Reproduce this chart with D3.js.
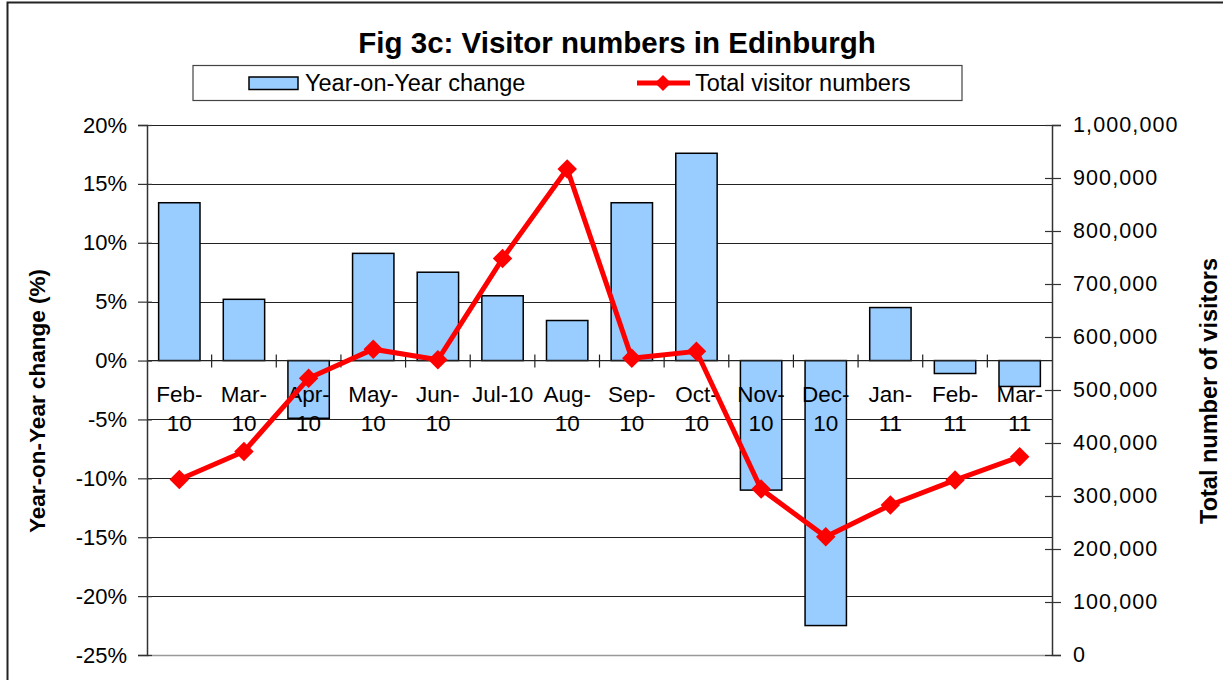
<!DOCTYPE html>
<html><head><meta charset="utf-8">
<script src="https://cdn.jsdelivr.net/npm/d3@7"></script>
<style>body{margin:0;background:#fff;} svg{display:block;font-family:Arial,"Liberation Sans",sans-serif;}</style>
</head><body>
<svg id="c" width="1223" height="680"></svg>
<script>
const categories = ["Feb-10","Mar-10","Apr-10","May-10","Jun-10","Jul-10","Aug-10","Sep-10","Oct-10","Nov-10","Dec-10","Jan-11","Feb-11","Mar-11"];
const yoyChange = [13.4, 5.2, -4.9, 9.1, 7.5, 5.5, 3.4, 13.4, 17.6, -11.0, -22.5, 4.5, -1.1, -2.2];
const totalVisitors = [331000, 384000, 522000, 577000, 557000, 748000, 917000, 560000, 573000, 313000, 223000, 283000, 330000, 374000];
const leftTicks = [20, 15, 10, 5, 0, -5, -10, -15, -20, -25];
const rightTicks = [0, 100000, 200000, 300000, 400000, 500000, 600000, 700000, 800000, 900000, 1000000];
const title = "Fig 3c: Visitor numbers in Edinburgh";
const leftTitle = "Year-on-Year change (%)";
const rightTitle = "Total number of visitors";
const legendLabels = ["Year-on-Year change", "Total visitor numbers"];

const svg = d3.select("#c");
const L = 147, R = 1052, T = 125, B = 655;

// outer border
svg.append("path").attr("d", `M7.5,${680} V2.5 H1223`).attr("fill","none").attr("stroke","#222").attr("stroke-width",2);

const x = d3.scaleBand().domain(categories).range([L, R]).paddingInner(0.36).paddingOuter(0.18);
const xb = d3.scaleBand().domain(categories).range([L, R]);
const yL = d3.scaleLinear().domain([-25, 20]).range([B, T]);
const yR = d3.scaleLinear().domain([0, 1000000]).range([B, T]);

// gridlines
svg.append("g").selectAll("line").data(leftTicks.filter(d => d !== -25 && d !== 0)).join("line")
  .attr("x1", L).attr("x2", R).attr("y1", d => Math.round(yL(d)) + 0.5).attr("y2", d => Math.round(yL(d)) + 0.5)
  .attr("stroke", "#222").attr("stroke-width", 1.2);
svg.append("line").attr("x1", L).attr("x2", R).attr("y1", B + 0.5).attr("y2", B + 0.5).attr("stroke", "#999").attr("stroke-width", 1.5);

// bars
svg.append("g").selectAll("rect").data(categories).join("rect")
  .attr("x", d => x(d)).attr("width", x.bandwidth())
  .attr("y", (d, i) => yL(Math.max(0, yoyChange[i])))
  .attr("height", (d, i) => Math.abs(yL(yoyChange[i]) - yL(0)))
  .attr("fill", "#99CCFF").attr("stroke", "#000").attr("stroke-width", 1.5);

// zero axis line with category ticks
svg.append("line").attr("x1", L).attr("x2", R).attr("y1", yL(0)).attr("y2", yL(0)).attr("stroke", "#222").attr("stroke-width", 1.3);
svg.append("g").selectAll("line").data(categories.slice(1)).join("line")
  .attr("x1", d => xb(d)).attr("x2", d => xb(d)).attr("y1", yL(0) - 6).attr("y2", yL(0) + 7)
  .attr("stroke", "#222").attr("stroke-width", 1.2);

// left axis
const gl = svg.append("g").attr("transform", `translate(${L},0)`)
  .call(d3.axisLeft(yL).tickValues(leftTicks).tickFormat(d => d + "%").tickSize(9).tickPadding(11));
gl.select(".domain").attr("stroke", "#333").attr("stroke-width", 1.5);
gl.selectAll(".tick line").attr("stroke", "#333").attr("stroke-width", 1.2).attr("x2", -9).attr("x1", 5);
gl.selectAll("text").attr("font-size", 22).attr("fill", "#000").attr("font-family", "Arial, Liberation Sans, sans-serif");

// right axis
const gr = svg.append("g").attr("transform", `translate(${R},0)`)
  .call(d3.axisRight(yR).tickValues(rightTicks).tickFormat(d3.format(",")).tickSize(9).tickPadding(12));
gr.select(".domain").attr("stroke", "#333").attr("stroke-width", 1.5);
gr.selectAll(".tick line").attr("stroke", "#333").attr("stroke-width", 1.2).attr("x1", -7).attr("x2", 9);
gr.selectAll("text").attr("font-size", 21.5).attr("letter-spacing", 1.1).attr("fill", "#000").attr("font-family", "Arial, Liberation Sans, sans-serif");

// category labels
const catG = svg.append("g");
categories.forEach(c => {
  const cx = xb(c) + xb.bandwidth() / 2;
  const lines = c === "Jul-10" ? [c] : [c.split("-")[0] + "-", c.split("-")[1]];
  const t = catG.append("text").attr("x", cx).attr("y", 402).attr("text-anchor", "middle")
    .attr("font-size", 22.5).attr("fill", "#000");
  lines.forEach((ln, k) => t.append("tspan").attr("x", cx).attr("dy", k === 0 ? 0 : 29).text(ln));
});

// line
const line = d3.line().x((d, i) => xb(categories[i]) + xb.bandwidth() / 2).y(d => yR(d));
svg.append("path").datum(totalVisitors).attr("d", line).attr("fill", "none")
  .attr("stroke", "#FF0000").attr("stroke-width", 5).attr("stroke-linejoin", "miter");
svg.append("g").selectAll("path").data(totalVisitors).join("path")
  .attr("transform", (d, i) => `translate(${xb(categories[i]) + xb.bandwidth() / 2},${yR(d)}) rotate(45)`)
  .attr("d", d3.symbol().type(d3.symbolSquare).size(190)).attr("fill", "#FF0000");

// title
svg.append("text").attr("x", 617).attr("y", 53).attr("text-anchor", "middle")
  .attr("font-size", 29.5).attr("font-weight", "bold").text(title);

// legend
svg.append("rect").attr("x", 193).attr("y", 65.5).attr("width", 769).attr("height", 35)
  .attr("fill", "#fff").attr("stroke", "#444").attr("stroke-width", 1.2);
svg.append("rect").attr("x", 249).attr("y", 77).attr("width", 49).attr("height", 12.5)
  .attr("fill", "#99CCFF").attr("stroke", "#000").attr("stroke-width", 1.5);
svg.append("text").attr("x", 305).attr("y", 91).attr("font-size", 23.5).text(legendLabels[0]);
svg.append("line").attr("x1", 637).attr("x2", 690).attr("y1", 83).attr("y2", 83).attr("stroke", "#FF0000").attr("stroke-width", 5);
svg.append("path").attr("transform", "translate(663,83) rotate(45)").attr("d", d3.symbol().type(d3.symbolSquare).size(130)).attr("fill", "#FF0000");
svg.append("text").attr("x", 695).attr("y", 91).attr("font-size", 23.5).text(legendLabels[1]);

// axis titles
svg.append("text").attr("transform", "translate(45,401) rotate(-90)").attr("text-anchor", "middle")
  .attr("font-size", 22.5).attr("font-weight", "bold").text(leftTitle);
svg.append("text").attr("transform", "translate(1217,391) rotate(-90)").attr("text-anchor", "middle")
  .attr("font-size", 23.5).attr("font-weight", "bold").text(rightTitle);
</script>
</body></html>
